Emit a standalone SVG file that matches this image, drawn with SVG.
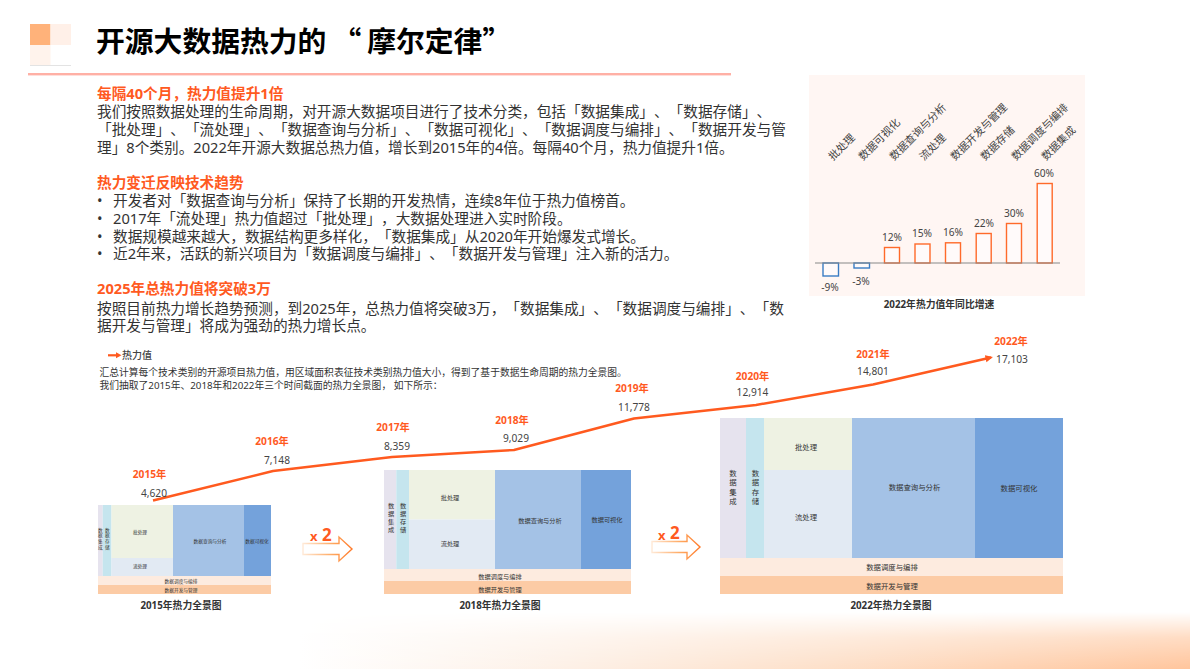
<svg xmlns="http://www.w3.org/2000/svg" width="1190" height="669" viewBox="0 0 1190 669">
<style>
text{font-family:"Noto Sans","Noto Sans CJK SC",sans-serif;fill:#333;text-spacing-trim:space-all;font-kerning:none;}
.body{font-size:14.67px;}
.head{font-size:14.67px;font-weight:700;fill:#ff5a1f;}
.cap{font-size:9.78px;}
.yr{font-size:10.2px;font-weight:700;fill:#ff5a1f;text-anchor:middle;dominant-baseline:central;}
.val{font-size:10.2px;fill:#444;text-anchor:middle;dominant-baseline:central;}
.bt{font-size:10.7px;fill:#444;}
.bar1{fill:#fffafa;stroke:#ff6a2a;stroke-width:1.4;}
.bar2{fill:#fffafa;stroke:#3a7cc4;stroke-width:1.4;}
.ttl{font-size:9.8px;font-weight:700;text-anchor:middle;dominant-baseline:central;}
.t15{font-size:4.7px;text-anchor:middle;dominant-baseline:central;}
.t18{font-size:6.2px;text-anchor:middle;dominant-baseline:central;}
.t22{font-size:7.4px;text-anchor:middle;dominant-baseline:central;}
.v{writing-mode:vertical-rl;}
.c1{fill:#e6e3ee}.c2{fill:#c5e5ee}.c3{fill:#eef2e3}.c4{fill:#e2eaf3}.c5{fill:#a4c2e6}.c6{fill:#74a2db}.c7{fill:#fdebdf}.c8{fill:#fccba5}
.x{font-weight:700;fill:#ff5a1f;}
.outl{fill:#fff;stroke:url(#ag);stroke-width:1.4;}
</style>
<defs>
<linearGradient id="hz" x1="0" x2="1" y1="0" y2="0"><stop offset="0" stop-color="#fff"/><stop offset="0.3" stop-color="#fdf0e6"/><stop offset="0.6" stop-color="#fddfc8"/><stop offset="1" stop-color="#ffc59c"/></linearGradient>
<linearGradient id="vm" x1="0" x2="0" y1="0" y2="1"><stop offset="0" stop-color="#000"/><stop offset="0.45" stop-color="#999"/><stop offset="1" stop-color="#fff"/></linearGradient>
<mask id="fade" maskUnits="userSpaceOnUse" x="300" y="612" width="890" height="57"><rect x="300" y="612" width="890" height="57" fill="url(#vm)"/></mask>
<linearGradient id="ag" x1="0" x2="1" y1="0" y2="0"><stop offset="0" stop-color="#ffe9d6"/><stop offset="0.6" stop-color="#ffa860"/><stop offset="1" stop-color="#ff7a2a"/></linearGradient>
<marker id="ah" markerUnits="userSpaceOnUse" markerWidth="9" markerHeight="8" refX="5.500" refY="4" orient="auto"><path d="M0,0.5 L7.500,4 L0,7.500 Z" fill="#ff5a1f"/></marker>
</defs>

<rect id="bottom-band" x="300" y="612" width="890" height="57" fill="url(#hz)" mask="url(#fade)"/>

<g id="header">
<rect x="30" y="24" width="20.5" height="21" fill="#ffb27a"/>
<rect x="50.5" y="24" width="20.5" height="21" fill="#fff0e8"/>
<rect x="30" y="45" width="20.5" height="20" fill="#fff3ec"/>
<rect x="30" y="65" width="41" height="0.8" fill="#ddd"/>
<rect x="28" y="73" width="703" height="2.4" fill="#ffb0a5"/>
<text x="96" y="52" style="font-family:'Noto Sans CJK SC',sans-serif;font-size:28.8px;font-weight:700;fill:#000">开源大数据热力的<tspan dx="6">“</tspan><tspan dx="6">摩尔定律”</tspan></text>
</g>

<g id="intro">
<text class="head" x="97" y="99">每隔40个月，热力值提升1倍</text>
<text class="body" x="97" y="116.500">我们按照数据处理的生命周期，对开源大数据项目进行了技术分类，包括「数据集成」、「数据存储」、</text>
<text class="body" x="97" y="134.500">「批处理」、「流处理」、「数据查询与分析」、「数据可视化」、「数据调度与编排」、「数据开发与管</text>
<text class="body" x="97" y="152.500">理」8个类别。2022年开源大数据总热力值，增长到2015年的4倍。每隔40个月，热力值提升1倍。</text>
</g>
<g id="trends">
<text class="head" x="97" y="188">热力变迁反映技术趋势</text>
<text class="body" x="97" y="206">•<tspan x="113">开发者对「数据查询与分析」保持了长期的开发热情，连续8年位于热力值榜首。</tspan></text>
<text class="body" x="97" y="224">•<tspan x="113">2017年「流处理」热力值超过「批处理」，大数据处理进入实时阶段。</tspan></text>
<text class="body" x="97" y="241.500">•<tspan x="113">数据规模越来越大，数据结构更多样化，「数据集成」从2020年开始爆发式增长。</tspan></text>
<text class="body" x="97" y="259">•<tspan x="113">近2年来，活跃的新兴项目为「数据调度与编排」、「数据开发与管理」注入新的活力。</tspan></text>
</g>
<g id="forecast">
<text class="head" x="97" y="294">2025年总热力值将突破3万</text>
<text class="body" x="97" y="313.500">按照目前热力增长趋势预测，到2025年，总热力值将突破3万，「数据集成」、「数据调度与编排」、「数</text>
<text class="body" x="97" y="331">据开发与管理」将成为强劲的热力增长点。</text>
</g>

<g id="yoy-chart">
<rect x="809" y="75" width="276" height="221" fill="#fff6f3"/>
<g class="bt">
<text class="bt" transform="translate(833,161) rotate(-45)">批处理</text>
<text class="bt" transform="translate(863,161) rotate(-45)">数据可视化</text>
<text class="bt" transform="translate(894,161) rotate(-45)">数据查询与分析</text>
<text class="bt" transform="translate(924,161) rotate(-45)">流处理</text>
<text class="bt" transform="translate(955,161) rotate(-45)">数据开发与管理</text>
<text class="bt" transform="translate(985,161) rotate(-45)">数据存储</text>
<text class="bt" transform="translate(1016,161) rotate(-45)">数据调度与编排</text>
<text class="bt" transform="translate(1046,161) rotate(-45)">数据集成</text>
</g>
<rect class="bar2" x="823" y="263" width="15.500" height="13"/>
<rect class="bar2" x="854" y="263" width="15.500" height="5"/>
<rect class="bar1" x="884.500" y="247.500" width="15" height="15.500"/>
<rect class="bar1" x="915" y="244" width="15" height="19"/>
<rect class="bar1" x="945.500" y="242.800" width="15" height="20.200"/>
<rect class="bar1" x="976.200" y="233.500" width="15" height="29.500"/>
<rect class="bar1" x="1006.500" y="223.500" width="15" height="39.500"/>
<rect class="bar1" x="1037.200" y="183.500" width="15" height="79.500"/>
<rect x="815" y="262.500" width="245" height="1" fill="#888"/>
<text class="val" x="830" y="287">-9%</text>
<text class="val" x="861" y="281">-3%</text>
<text class="val" x="892" y="236.500">12%</text>
<text class="val" x="922" y="233">15%</text>
<text class="val" x="953" y="232">16%</text>
<text class="val" x="984" y="222.500">22%</text>
<text class="val" x="1014" y="212.500">30%</text>
<text class="val" x="1044" y="172.500">60%</text>
<text class="ttl" x="939" y="304">2022年热力值年同比增速</text>
</g>

<g id="legend">
<rect x="108" y="354.200" width="9" height="2.200" fill="#ff5a1f"/>
<path d="M116,352.300 L121.500,355.300 L116,358.300 Z" fill="#ff5a1f"/>
<text x="122" y="355" style="font-size:10px;font-weight:500;dominant-baseline:central;fill:#444">热力值</text>
<text class="cap" x="99.500" y="372.500" style="dominant-baseline:central">汇总计算每个技术类别的开源项目热力值，用区域面积表征技术类别热力值大小，得到了基于数据生命周期的热力全景图。</text>
<text class="cap" x="99.500" y="385.500" style="dominant-baseline:central">我们抽取了2015年、2018年和2022年三个时间截面的热力全景图， 如下所示：</text>
</g>

<g id="map-2015">
<rect class="c1" x="98" y="505" width="4.700" height="71"/>
<rect class="c2" x="102.700" y="505" width="8.800" height="71"/>
<rect class="c3" x="111.500" y="505" width="61.500" height="53"/>
<rect class="c4" x="111.500" y="558" width="61.500" height="18"/>
<rect class="c5" x="173" y="505" width="71" height="71"/>
<rect class="c6" x="244" y="505" width="27" height="71"/>
<rect class="c7" x="98" y="576" width="173" height="9"/>
<rect class="c8" x="98" y="585" width="173" height="9"/>
<text class="t15 v" x="100.300" y="539" style="letter-spacing:1px">数据集成</text>
<text class="t15 v" x="107.300" y="539" style="letter-spacing:1px">数据存储</text>
<text class="t15" x="140" y="532">批处理</text>
<text class="t15" x="140" y="566">流处理</text>
<text class="t15" x="210" y="541">数据查询与分析</text>
<text class="t15" x="257" y="541">数据可视化</text>
<text class="t15" x="181" y="580.500">数据调度与编排</text>
<text class="t15" x="181" y="589.500">数据开发与管理</text>
<text class="ttl" x="181" y="605.500">2015年热力全景图</text>
</g>

<g id="map-2018">
<rect class="c1" x="384" y="470" width="12.300" height="99"/>
<rect class="c2" x="396.300" y="470" width="12.700" height="99"/>
<rect class="c3" x="409" y="470" width="86" height="49.500"/>
<rect class="c4" x="409" y="519.500" width="86" height="49.500"/>
<rect class="c5" x="495" y="470" width="86" height="99"/>
<rect class="c6" x="581" y="470" width="50" height="99"/>
<rect class="c7" x="384" y="569" width="247" height="12"/>
<rect class="c8" x="384" y="581" width="247" height="13"/>
<text class="t18 v" x="391" y="519" style="letter-spacing:1.800px">数据集成</text>
<text class="t18 v" x="403" y="519" style="letter-spacing:1.800px">数据存储</text>
<text class="t18" x="450" y="497">批处理</text>
<text class="t18" x="450" y="543">流处理</text>
<text class="t18" x="540" y="520">数据查询与分析</text>
<text class="t18" x="607" y="519">数据可视化</text>
<text class="t18" x="500" y="576">数据调度与编排</text>
<text class="t18" x="500" y="589">数据开发与管理</text>
<text class="ttl" x="500" y="605.500">2018年热力全景图</text>
</g>

<g id="map-2022">
<rect class="c1" x="720" y="418" width="26" height="140"/>
<rect class="c2" x="746" y="418" width="18" height="140"/>
<rect class="c3" x="764" y="418" width="88" height="52"/>
<rect class="c4" x="764" y="470" width="88" height="88"/>
<rect class="c5" x="852" y="418" width="123" height="140"/>
<rect class="c6" x="975" y="418" width="88" height="140"/>
<rect class="c7" x="720" y="558" width="343" height="18"/>
<rect class="c8" x="720" y="576" width="343" height="18"/>
<text class="t22 v" x="732.500" y="488" style="letter-spacing:1.700px">数据集成</text>
<text class="t22 v" x="755" y="488" style="letter-spacing:1.700px">数据存储</text>
<text class="t22" x="806" y="447">批处理</text>
<text class="t22" x="806" y="516.500">流处理</text>
<text class="t22" x="914.500" y="487">数据查询与分析</text>
<text class="t22" x="1019" y="488">数据可视化</text>
<text class="t22" x="892" y="566.500">数据调度与编排</text>
<text class="t22" x="892" y="585.500">数据开发与管理</text>
<text class="ttl" x="891" y="605.500">2022年热力全景图</text>
</g>

<g id="connectors">
<polyline points="153,500.500 273,471 392,457 514,450 634,418.500 756,405 873,384.500 991,357.500" fill="none" stroke="#ff5a1f" stroke-width="2.500" stroke-linejoin="round" marker-end="url(#ah)"/>
</g>

<g id="year-labels">
<text class="yr" x="149.500" y="474">2015年</text><text class="val" x="154" y="492.500">4,620</text>
<text class="yr" x="272" y="441">2016年</text><text class="val" x="277" y="459.500">7,148</text>
<text class="yr" x="393" y="427">2017年</text><text class="val" x="397" y="445.500">8,359</text>
<text class="yr" x="512" y="420">2018年</text><text class="val" x="516" y="437.500">9,029</text>
<text class="yr" x="632" y="388">2019年</text><text class="val" x="634" y="406.500">11,778</text>
<text class="yr" x="752.500" y="375.500">2020年</text><text class="val" x="752.500" y="392">12,914</text>
<text class="yr" x="873" y="353.500">2021年</text><text class="val" x="873" y="371">14,801</text>
<text class="yr" x="1011" y="340.500">2022年</text><text class="val" x="1012" y="358.500">17,103</text>
</g>

<g id="x2-a">
<path class="outl" d="M303,543.500 H339 V537 L352,549 L339,561 V554.500 H303 Z"/>
<text class="x" x="310" y="541" style="font-size:13px;fill:#ff5a1f">x</text>
<text class="x" x="322" y="541" style="font-size:17px;fill:#ff5a1f">2</text>
</g>
<g id="x2-b">
<path class="outl" d="M652,541.500 H687 V535 L700,547 L687,559 V552.500 H652 Z"/>
<text class="x" x="658" y="539.500" style="font-size:13px;fill:#ff5a1f">x</text>
<text class="x" x="670" y="539" style="font-size:17px;fill:#ff5a1f">2</text>
</g>
</svg>
